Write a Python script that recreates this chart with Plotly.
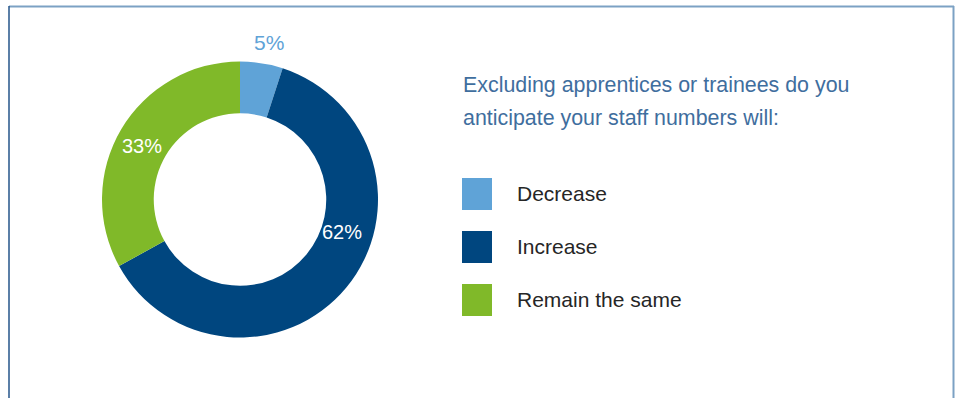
import plotly.graph_objects as go

# Survey responses
categories = ["Decrease", "Increase", "Remain the same"]
shares = [5, 62, 33]
colors = ["#5fa3d7", "#00467f", "#80b929"]
label_colors = ["#5fa3d7", "#ffffff", "#ffffff"]
title_lines = ["Excluding apprentices or trainees do you",
               "anticipate your staff numbers will:"]

W, H = 962, 398
FONT = "Liberation Sans, Arial, Helvetica, sans-serif"


def px(x):
    return x / W


def py(y):
    return 1 - y / H


# Donut geometry (pixels)
cx, cy, r_out = 240, 199.5, 138

fig = go.Figure(go.Pie(
    labels=categories,
    values=shares,
    marker=dict(colors=colors, line=dict(width=0)),
    hole=0.625,
    sort=False,
    direction="clockwise",
    rotation=0,
    textinfo="none",
    hoverinfo="label+percent",
    showlegend=False,
    domain=dict(x=[px(cx - r_out), px(cx + r_out)],
                y=[py(cy + r_out), py(cy - r_out)]),
))

annotations = []
shapes = []

# Percentage labels placed around the ring
label_pos = [(268.5, 43), (342, 232), (142, 146)]
label_size = [21, 20, 20]
for val, (lx, ly), col, sz in zip(shares, label_pos, label_colors, label_size):
    annotations.append(dict(
        x=px(lx), y=py(ly), xref="paper", yref="paper",
        text=f"{val}%", showarrow=False, xanchor="center", yanchor="middle",
        font=dict(family=FONT, size=sz, color=col),
    ))

# Question text
for i, line in enumerate(title_lines):
    annotations.append(dict(
        x=px(460.5), y=py(85 + 33 * i), xref="paper", yref="paper",
        text=line, showarrow=False, xanchor="left", yanchor="middle",
        font=dict(family=FONT, size=21.4, color="#3f6e9e"),
    ))

# Legend: coloured squares with labels
for i, (cat, col) in enumerate(zip(categories, colors)):
    top = 178 + 53 * i
    shapes.append(dict(
        type="rect", xref="paper", yref="paper",
        x0=px(462), x1=px(492), y0=py(top + 32), y1=py(top),
        fillcolor=col, line=dict(width=0),
    ))
    annotations.append(dict(
        x=px(514.5), y=py(top + 15), xref="paper", yref="paper",
        text=cat, showarrow=False, xanchor="left", yanchor="middle",
        font=dict(family=FONT, size=21, color="#262626"),
    ))

# Frame around the panel
shapes += [
    dict(type="line", xref="paper", yref="paper",
         x0=px(9), x1=px(954), y0=py(6.5), y1=py(6.5),
         line=dict(color="#7ca1c4", width=2)),
    dict(type="line", xref="paper", yref="paper",
         x0=px(9), x1=px(9), y0=py(6), y1=py(400),
         line=dict(color="#24548a", width=1.5)),
    dict(type="line", xref="paper", yref="paper",
         x0=px(953.5), x1=px(953.5), y0=py(6), y1=py(400),
         line=dict(color="#7ca1c4", width=2)),
]

fig.update_layout(
    width=W, height=H,
    margin=dict(l=0, r=0, t=0, b=0),
    paper_bgcolor="white",
    plot_bgcolor="white",
    annotations=annotations,
    shapes=shapes,
)

fig.write_html("out.html")
